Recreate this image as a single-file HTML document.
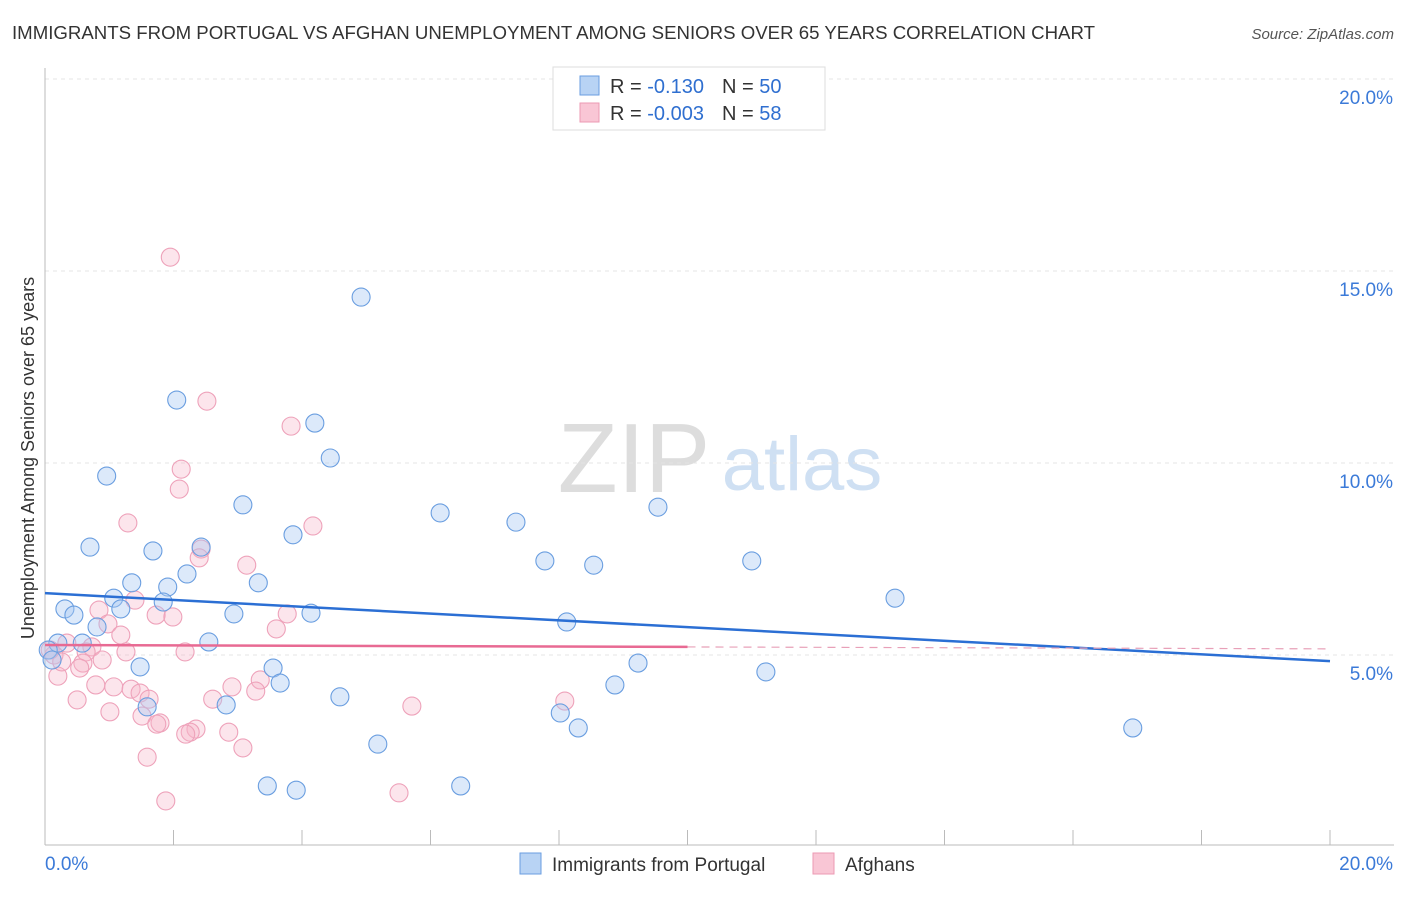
<!DOCTYPE html>
<html><head><meta charset="utf-8"><style>
body{margin:0;background:#fff;font-family:"Liberation Sans",sans-serif}
svg text{font-family:"Liberation Sans",sans-serif}
</style></head><body>
<svg id="c" width="1406" height="892">
<text x="12" y="39" font-size="18" fill="#333" textLength="1083" lengthAdjust="spacingAndGlyphs">IMMIGRANTS FROM PORTUGAL VS AFGHAN UNEMPLOYMENT AMONG SENIORS OVER 65 YEARS CORRELATION CHART</text>
<text x="1394" y="39" font-size="15" fill="#555" font-style="italic" text-anchor="end">Source: ZipAtlas.com</text>
<text x="634" y="492" font-size="98" fill="#ddd" font-family="Liberation Serif" text-anchor="middle">ZIP</text>
<text x="802" y="490" font-size="76" fill="#cfe0f3" text-anchor="middle">atlas</text>
<g id="grid"></g>
<g id="pts"></g>
<g id="lines"></g>
<text transform="translate(34,458) rotate(-90)" font-size="18" fill="#333" text-anchor="middle">Unemployment Among Seniors over 65 years</text>
<g>
<rect x="553" y="67" width="272" height="63" fill="#fff" stroke="#ddd"/>
<rect x="580" y="76" width="19" height="19" fill="#b8d3f4" stroke="#6a9ee0"/>
<rect x="580" y="103" width="19" height="19" fill="#f9c6d5" stroke="#ec9ab3"/>
<text x="610" y="93" font-size="20" fill="#333">R = <tspan fill="#2f6fd0"> -0.130</tspan><tspan dx="18" fill="#333">N = </tspan><tspan fill="#2f6fd0">50</tspan></text>
<text x="610" y="120" font-size="20" fill="#333">R = <tspan fill="#2f6fd0">-0.003</tspan><tspan dx="18" fill="#333">N = </tspan><tspan fill="#2f6fd0"> 58</tspan></text>
</g>
<g>
<rect x="520" y="853" width="21" height="21" fill="#b8d3f4" stroke="#6a9ee0"/>
<text x="552" y="871" font-size="19" fill="#333">Immigrants from Portugal</text>
<rect x="813" y="853" width="21" height="21" fill="#f9c6d5" stroke="#ec9ab3"/>
<text x="845" y="871" font-size="19" fill="#333">Afghans</text>
</g>
</svg>
<script>
const blueX=[4.92,2.05,4.20,4.44,0.96,3.08,6.15,7.33,9.54,3.86,0.70,1.68,2.43,7.78,8.54,11.00,2.21,1.35,1.91,3.32,13.23,1.07,1.84,0.31,0.45,1.18,2.94,4.14,8.12,0.81,2.55,0.58,0.20,0.05,1.48,3.55,9.23,11.22,3.66,8.87,4.59,2.82,1.59,8.02,8.30,16.93,5.18,3.46,3.91,6.47,0.11];
const blueY=[14.32,11.64,11.04,10.13,9.66,8.91,8.70,8.46,8.85,8.13,7.81,7.71,7.81,7.45,7.34,7.45,7.11,6.88,6.77,6.88,6.48,6.48,6.38,6.20,6.04,6.20,6.07,6.09,5.86,5.73,5.34,5.31,5.31,5.13,4.69,4.66,4.79,4.56,4.27,4.22,3.91,3.70,3.65,3.49,3.10,3.10,2.68,1.59,1.48,1.59,4.87];
const pinkX=[1.95,2.52,3.83,2.12,2.09,1.29,4.17,2.43,2.40,3.14,1.40,0.84,1.73,1.99,3.77,0.98,3.60,1.18,0.73,0.34,0.64,1.26,2.18,0.14,0.89,0.59,0.54,0.20,3.35,0.79,1.07,2.91,1.34,1.48,1.62,3.28,2.61,0.50,8.09,5.71,1.01,1.51,1.79,1.74,2.35,2.26,2.19,2.86,3.08,1.59,1.88,5.51,0.08,0.26];
const pinkY=[15.36,11.61,10.96,9.84,9.32,8.44,8.36,7.76,7.53,7.34,6.43,6.17,6.04,5.99,6.07,5.81,5.68,5.52,5.21,5.31,5.08,5.08,5.08,5.00,4.87,4.79,4.66,4.45,4.35,4.22,4.17,4.17,4.11,4.01,3.85,4.06,3.85,3.83,3.80,3.67,3.52,3.41,3.23,3.20,3.07,2.99,2.94,2.99,2.58,2.34,1.20,1.41,5.13,4.82];
const yTicks=[5,10,15,20];
const yTickLabels=["5.0%","10.0%","15.0%","20.0%"];
const blueTrend=[6.61,4.84];
const pinkTrend=[5.26,5.21];
const NS="http://www.w3.org/2000/svg";
const sx=v=>45+v*64.25, sy=v=>847-v*38.4;
function mk(t,a,p){const e=document.createElementNS(NS,t);for(const k in a)e.setAttribute(k,a[k]);p.appendChild(e);return e;}
const g=document.getElementById('grid');
yTicks.forEach((t,i)=>{
 const l=mk('line',{x1:45,x2:1394,y1:sy(t),y2:sy(t),stroke:'#e4e4e4','stroke-dasharray':'4,4'},g);
 
 
 const tx=mk('text',{x:1393,y:sy(t)+25,'font-size':19,fill:'#3b7ad8','text-anchor':'end'},g);
 tx.textContent=yTickLabels[i];
 
 
});
mk('line',{x1:45,x2:45,y1:68,y2:845,stroke:'#bbb'},g);
mk('line',{x1:45,x2:1394,y1:845,y2:845,stroke:'#bbb'},g);
for(let i=1;i<=10;i++){const x=sx(i*2);const t=mk('line',{x1:x,x2:x,y1:830,y2:845,stroke:'#bbb'},g);}
const x0=mk('text',{x:45,y:870,'font-size':19,fill:'#3b7ad8'},g);x0.textContent='0.0%';


const x1=mk('text',{x:1393,y:870,'font-size':19,fill:'#3b7ad8','text-anchor':'end'},g);x1.textContent='20.0%';


const p=document.getElementById('pts');
pinkX.forEach((v,i)=>{const c=mk('circle',{cx:sx(v),cy:sy(pinkY[i]),r:9,fill:'rgba(246,180,200,0.35)',stroke:'#eea2ba','stroke-width':1.1},p);

});
blueX.forEach((v,i)=>{const c=mk('circle',{cx:sx(v),cy:sy(blueY[i]),r:9,fill:'rgba(168,200,242,0.4)',stroke:'#6a9ee0','stroke-width':1.1},p);

});
const L=document.getElementById('lines');
const bl=mk('line',{x1:sx(0),x2:sx(20),y1:sy(blueTrend[0]),y2:sy(blueTrend[1]),stroke:'#2b6fd4','stroke-width':2.5},L);


const pl=mk('line',{x1:sx(0),x2:sx(10),y1:sy(pinkTrend[0]),y2:sy(pinkTrend[1]),stroke:'#e86a93','stroke-width':2.5},L);


const pd=mk('line',{x1:sx(10),x2:sx(20),y1:sy(pinkTrend[1]),y2:sy(2*pinkTrend[1]-pinkTrend[0]),stroke:'#e8a0b8','stroke-width':1.2,'stroke-dasharray':'8,6'},L);


</script>
</body></html>
